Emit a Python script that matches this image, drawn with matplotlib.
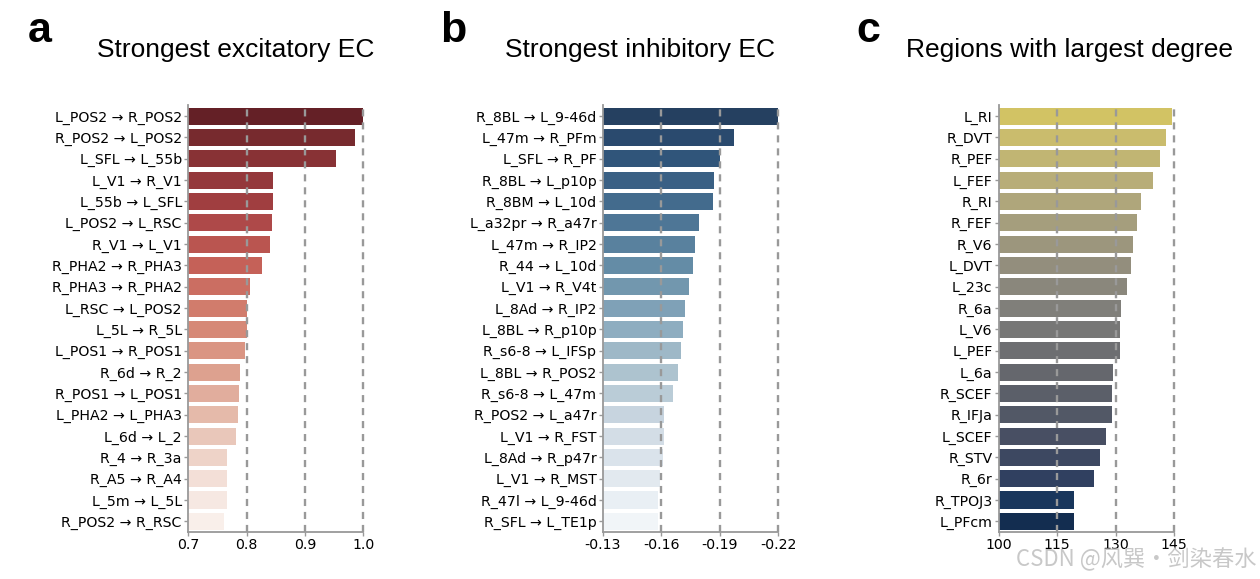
import numpy as np
import matplotlib
matplotlib.use("Agg")
import matplotlib.pyplot as plt
import seaborn as sns

plt.rcParams["axes.unicode_minus"] = False

# %% data (top to bottom)

exc_labels = ["L_POS2 → R_POS2", "R_POS2 → L_POS2", "L_SFL → L_55b", "L_V1 → R_V1",
              "L_55b → L_SFL", "L_POS2 → L_RSC", "R_V1 → L_V1", "R_PHA2 → R_PHA3",
              "R_PHA3 → R_PHA2", "L_RSC → L_POS2", "L_5L → R_5L", "L_POS1 → R_POS1",
              "R_6d → R_2", "R_POS1 → L_POS1", "L_PHA2 → L_PHA3", "L_6d → L_2",
              "R_4 → R_3a", "R_A5 → R_A4", "L_5m → L_5L", "R_POS2 → R_RSC"]
exc_values = [0.999, 0.985, 0.953, 0.846, 0.845, 0.843, 0.840, 0.826,
              0.806, 0.800, 0.800, 0.798, 0.789, 0.788, 0.785, 0.782,
              0.767, 0.767, 0.766, 0.762]

inh_labels = ["R_8BL → L_9-46d", "L_47m → R_PFm", "L_SFL → R_PF", "R_8BL → L_p10p",
              "R_8BM → L_10d", "L_a32pr → R_a47r", "L_47m → R_IP2", "R_44 → L_10d",
              "L_V1 → R_V4t", "L_8Ad → R_IP2", "L_8BL → R_p10p", "R_s6-8 → L_IFSp",
              "L_8BL → R_POS2", "R_s6-8 → L_47m", "R_POS2 → L_a47r", "L_V1 → R_FST",
              "L_8Ad → R_p47r", "L_V1 → R_MST", "R_47l → L_9-46d", "R_SFL → L_TE1p"]
inh_values = [-0.2200, -0.1974, -0.1899, -0.1870, -0.1868, -0.1793, -0.1772, -0.1764,
              -0.1745, -0.1724, -0.1714, -0.1700, -0.1688, -0.1658, -0.1615, -0.1613,
              -0.1610, -0.1596, -0.1586, -0.1586]

deg_labels = ["L_RI", "R_DVT", "R_PEF", "L_FEF", "R_RI", "R_FEF", "R_V6", "L_DVT",
              "L_23c", "R_6a", "L_V6", "L_PEF", "L_6a", "R_SCEF", "R_IFJa", "L_SCEF",
              "R_STV", "R_6r", "R_TPOJ3", "L_PFcm"]
deg_values = [144.4, 143.0, 141.4, 139.5, 136.5, 135.5, 134.5, 133.9,
              133.0, 131.4, 131.0, 131.0, 129.4, 129.0, 129.0, 127.4,
              126.0, 124.5, 119.4, 119.4]

# %%

W, H = 1260, 579
fig = plt.figure(figsize=(W / 100, H / 100), dpi=100)


def panel(left, labels, values, cmap, desat, xlim, xticks, xticklabels):
    ax = fig.add_axes([left / W, 1 - 532 / H, 175.5 / W, (532 - 105.5) / H])
    colors = sns.color_palette(cmap, len(values), desat=desat)
    y = np.arange(len(values))
    ax.barh(y, values, height=0.8, color=colors, zorder=2)
    ax.set_yticks(y)
    ax.set_yticklabels(labels, fontsize=10.2)
    ax.set_ylim(len(values) - 0.5, -0.5)
    ax.set_xlim(*xlim)
    ax.set_xticks(xticks)
    ax.set_xticklabels(xticklabels, fontsize=10.2)
    for t in xticks[1:]:
        ax.axvline(t, color="#999999", lw=1.7, ls=(0, (3, 2.5)), zorder=3, clip_on=False)
    for s in ["top", "right"]:
        ax.spines[s].set_visible(False)
    for s in ["left", "bottom"]:
        ax.spines[s].set_color("#999999")
        ax.spines[s].set_linewidth(1.3)
    ax.tick_params(colors="#999999", labelcolor="black", length=3, width=1, pad=1.5)
    return ax


panel(188, exc_labels, exc_values, "Reds_r", 0.56, (0.7, 1.0),
      [0.7, 0.8, 0.9, 1.0], ["0.7", "0.8", "0.9", "1.0"])
panel(602.7, inh_labels, inh_values, "Blues_r", 0.5, (-0.13, -0.22),
      [-0.13, -0.16, -0.19, -0.22], ["-0.13", "-0.16", "-0.19", "-0.22"])
panel(998.7, deg_labels, deg_values, "cividis_r", 0.62, (100, 145),
      [100, 115, 130, 145], ["100", "115", "130", "145"])

title_font = ["Liberation Sans", "DejaVu Sans"]
for x, letter in [(40, "a"), (453, "b"), (868, "c")]:
    fig.text(x / W, 1 - 31 / H, letter, fontsize=31, fontweight="bold",
             family=title_font, ha="center", va="center")

fig.text(235.5 / W, 1 - 50 / H, "Strongest excitatory EC", fontsize=19,
         family=title_font, ha="center", va="center")
fig.text(640 / W, 1 - 50 / H, "Strongest inhibitory EC", fontsize=19,
         family=title_font, ha="center", va="center")
fig.text(1070 / W, 1 - 50 / H, "Regions with largest degree", fontsize=19,
         family=title_font, ha="center", va="center")

# watermark
fig.text(1256 / W, 1 - 559 / H, "CSDN @风巽·剑染春水", fontsize=16, color="#c8c8c8",
         family=["Noto Sans CJK SC", "DejaVu Sans"], ha="right", va="center")

fig.savefig("out.png", dpi=100)
